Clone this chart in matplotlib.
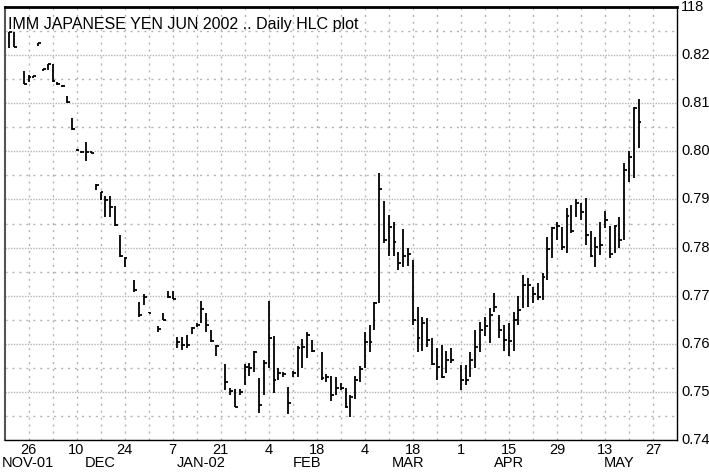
import numpy as np
import matplotlib
matplotlib.use("Agg")
import matplotlib.pyplot as plt
import matplotlib.transforms as mtransforms

plt.rcParams['font.family'] = ['Liberation Sans', 'DejaVu Sans']

# trading days (weekdays counted from Mon 19 Nov 2001)
dates = ['2001-11-20', '2001-11-21', '2001-11-23', '2001-11-26', '2001-11-27', '2001-11-28',
         '2001-11-29', '2001-11-30', '2001-12-03', '2001-12-04', '2001-12-05', '2001-12-06',
         '2001-12-07', '2001-12-10', '2001-12-11', '2001-12-12', '2001-12-13', '2001-12-14',
         '2001-12-17', '2001-12-18', '2001-12-19', '2001-12-20', '2001-12-21', '2001-12-24',
         '2001-12-26', '2001-12-27', '2001-12-28', '2001-12-31', '2002-01-02', '2002-01-03',
         '2002-01-04', '2002-01-07', '2002-01-08', '2002-01-09', '2002-01-10', '2002-01-11',
         '2002-01-14', '2002-01-15', '2002-01-16', '2002-01-17', '2002-01-18', '2002-01-22',
         '2002-01-23', '2002-01-24', '2002-01-25', '2002-01-28', '2002-01-29', '2002-01-30',
         '2002-01-31', '2002-02-01', '2002-02-04', '2002-02-05', '2002-02-06', '2002-02-07',
         '2002-02-08', '2002-02-11', '2002-02-12', '2002-02-13', '2002-02-14', '2002-02-15',
         '2002-02-19', '2002-02-20', '2002-02-21', '2002-02-22', '2002-02-25', '2002-02-26',
         '2002-02-27', '2002-02-28', '2002-03-01', '2002-03-04', '2002-03-05', '2002-03-06',
         '2002-03-07', '2002-03-08', '2002-03-11', '2002-03-12', '2002-03-13', '2002-03-14',
         '2002-03-15', '2002-03-18', '2002-03-19', '2002-03-20', '2002-03-21', '2002-03-22',
         '2002-03-25', '2002-03-26', '2002-03-27', '2002-03-28', '2002-04-01', '2002-04-02',
         '2002-04-03', '2002-04-04', '2002-04-05', '2002-04-08', '2002-04-09', '2002-04-10',
         '2002-04-11', '2002-04-12', '2002-04-15', '2002-04-16', '2002-04-17', '2002-04-18',
         '2002-04-19', '2002-04-22', '2002-04-23', '2002-04-24', '2002-04-25', '2002-04-26',
         '2002-04-29', '2002-04-30', '2002-05-01', '2002-05-02', '2002-05-03', '2002-05-06',
         '2002-05-07', '2002-05-08', '2002-05-09', '2002-05-10', '2002-05-13', '2002-05-14',
         '2002-05-15', '2002-05-16', '2002-05-17', '2002-05-20', '2002-05-21', '2002-05-22']

highs = [.8249, .8249, .8168, .8158, .8157, .8226, .8172, .8182, .8182, .8145, .8137, .8114,
         .8070, .8005, .8001, .8020, .8000, .7932, .7916, .7907, .7907, .7886, .7826, .7780,
         .7732, .7686, .7703, .7667, .7636, .7664, .7709, .7709, .7614, .7614, .7618, .7634,
         .7643, .7689, .7665, .7628, .7597, .7559, .7509, .7507, .7507, .7559, .7561, .7584,
         .7528, .7566, .7689, .7616, .7549, .7541, .7511, .7543, .7595, .7609, .7624, .7607,
         .7582, .7538, .7534, .7530, .7518, .7509, .7493, .7534, .7553, .7624, .7639, .7686,
         .7955, .7897, .7868, .7853, .7790, .7839, .7799, .7774, .7676, .7655, .7653, .7611,
         .7591, .7597, .7586, .7591, .7555, .7555, .7582, .7628, .7645, .7655, .7674, .7705,
         .7659, .7639, .7643, .7666, .7700, .7743, .7736, .7718, .7726, .7747, .7822, .7843,
         .7853, .7843, .7882, .7889, .7901, .7893, .7903, .7834, .7822, .7853, .7876, .7845,
         .7847, .7864, .7976, .8001, .8093, .8109]

lows = [.8214, .8216, .8139, .8145, .8152, .8218, .8166, .8170, .8145, .8138, .8134, .8101,
        .8045, .8000, .7996, .7980, .7996, .7920, .7899, .7863, .7863, .7845, .7780, .7759,
        .7707, .7655, .7680, .7664, .7624, .7649, .7695, .7693, .7591, .7587, .7591, .7620,
        .7634, .7643, .7624, .7603, .7574, .7503, .7493, .7468, .7493, .7514, .7534, .7541,
        .7457, .7493, .7549, .7497, .7524, .7530, .7455, .7530, .7530, .7549, .7570, .7582,
        .7524, .7520, .7482, .7493, .7503, .7466, .7447, .7486, .7520, .7549, .7582, .7628,
        .7684, .7809, .7782, .7782, .7753, .7759, .7761, .7639, .7582, .7586, .7593, .7555,
        .7524, .7528, .7539, .7561, .7503, .7514, .7530, .7549, .7582, .7616, .7601, .7666,
        .7611, .7586, .7574, .7586, .7639, .7674, .7676, .7685, .7690, .7690, .7732, .7778,
        .7816, .7795, .7789, .7830, .7864, .7857, .7805, .7780, .7759, .7784, .7840, .7778,
        .7789, .7799, .7816, .7937, .7945, .8007]

closes = [.8247, .8216, .8140, .8155, .8156, .8225, .8171, .8181, .8147, .8140, .8135, .8102,
          .8046, .8002, .7998, .7998, .7997, .7931, .7915, .7899, .7885, .7847, .7782, .7779,
          .7711, .7659, .7697, .7665, .7630, .7650, .7697, .7694, .7603, .7597, .7597, .7633,
          .7638, .7672, .7639, .7605, .7596, .7520, .7501, .7468, .7500, .7551, .7549, .7582,
          .7472, .7561, .7611, .7524, .7539, .7538, .7476, .7540, .7591, .7593, .7618, .7584,
          .7528, .7530, .7493, .7509, .7509, .7468, .7489, .7524, .7547, .7603, .7603, .7684,
          .7922, .7816, .7843, .7811, .7768, .7782, .7786, .7649, .7611, .7643, .7607, .7559,
          .7551, .7530, .7566, .7566, .7524, .7524, .7566, .7593, .7628, .7636, .7659, .7676,
          .7628, .7607, .7605, .7649, .7670, .7722, .7722, .7704, .7698, .7738, .7797, .7840,
          .7845, .7801, .7866, .7834, .7893, .7874, .7826, .7782, .7801, .7805, .7857, .7786,
          .7845, .7816, .7961, .7989, .8090, .8061]

tick_days = ['26', '10', '24', '7', '21', '4', '18', '4', '18', '1', '15', '29', '13', '27']
month_labels = ['NOV-01', 'DEC', 'JAN-02', 'FEB', 'MAR', 'APR', 'MAY']
month_pos = [4.9, 20, 41, 63, 84, 105, 128]
y_ticks = [0.74, 0.75, 0.76, 0.77, 0.78, 0.79, 0.80, 0.81, 0.82, 0.83]
y_labels = ['0.74', '0.75', '0.76', '0.77', '0.78', '0.79', '0.80', '0.81', '0.82', '118']

x = np.busday_count('2001-11-19', dates)

fig = plt.figure(figsize=(7.09, 4.75), dpi=100)
ax = fig.add_axes([4.5 / 709, 35 / 475, (677 - 4.5) / 709, (440 - 7) / 475])

ax.vlines(x, lows, highs, color='black', linewidth=1.3)
ax.hlines(closes, x, x + 0.6, color='black', linewidth=1.3)

ax.set_xlim(0, 140)
ax.set_ylim(0.74, 0.83)

ax.set_xticks(np.arange(5, 140, 10))
ax.set_xticklabels(tick_days, fontsize=10.5)
ax.set_xticks(np.arange(10, 140, 10), minor=True)
ax.set_yticks(y_ticks)
ax.set_yticklabels(y_labels, fontsize=10.5)
ax.set_yticks(np.arange(0.745, 0.83, 0.01), minor=True)
ax.yaxis.tick_right()
ax.tick_params(axis='both', which='both', length=0)
ax.tick_params(axis='x', pad=2)
ax.tick_params(axis='y', pad=3)
for lab in ax.get_yticklabels():
    lab.set_verticalalignment('center')

ax.grid(axis='y', which='major', color='#b4b4b4', linestyle=(0, (1, 1)), linewidth=1)
ax.grid(axis='y', which='minor', color='#b4b4b4', linestyle=(0, (1.5, 3.5)), linewidth=1)
ax.grid(axis='x', which='both', color='#b4b4b4', linestyle=(0, (1.5, 3.5)), linewidth=1)
ax.set_axisbelow(True)

ax.spines['top'].set_linewidth(2)
ax.spines['left'].set_color('#555555')
ax.spines['left'].set_linewidth(1.5)
ax.spines['right'].set_linewidth(1)
ax.spines['bottom'].set_linewidth(1)

trans = mtransforms.blended_transform_factory(ax.transData, ax.transAxes)
for pos, lab in zip(month_pos, month_labels):
    ax.text(pos, -0.038, lab, transform=trans, ha='center', va='top', fontsize=10.5)

ax.text(0.005, 0.976, 'IMM JAPANESE YEN JUN 2002 .. Daily HLC plot', transform=ax.transAxes,
        ha='left', va='top', fontsize=11.5)

plt.savefig('out.png', dpi=100)
